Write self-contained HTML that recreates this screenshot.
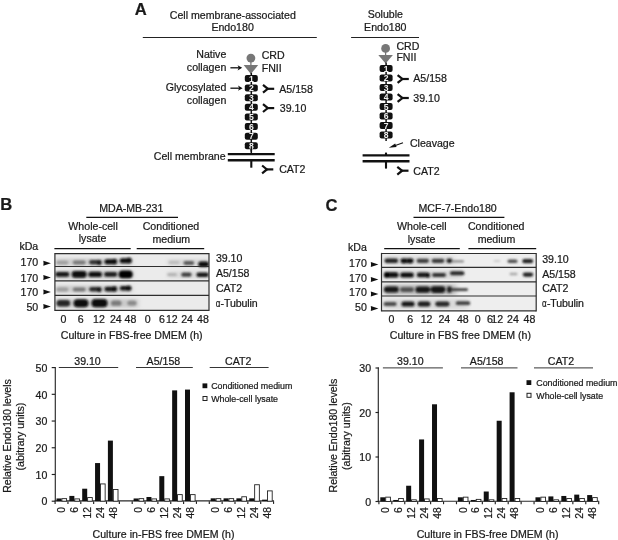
<!DOCTYPE html>
<html lang="en">
<head>
<meta charset="utf-8">
<title>Endo180 figure</title>
<style>
html,body{margin:0;padding:0;background:#fff;}
body{width:618px;height:540px;overflow:hidden;}
svg{display:block;font-family:"Liberation Sans",Arial,Helvetica,sans-serif;}
text{fill:#1a1a1a;stroke:#1a1a1a;stroke-width:0.22px;}
</style>
</head>
<body>
<svg width="618" height="540" viewBox="0 0 618 540">
<defs><filter id="blur" x="-5%" y="-5%" width="110%" height="110%"><feGaussianBlur stdDeviation="1.0 0.85"/></filter><filter id="blur2" x="-5%" y="-5%" width="110%" height="110%"><feGaussianBlur stdDeviation="2.5 1.6"/></filter></defs>
<rect width="618" height="540" fill="#fff"/>
<text x="134.70" y="15.00" font-size="16.6" text-anchor="start" font-weight="bold" stroke="#111" stroke-width="0.35">A</text>
<text x="232.80" y="18.69" font-size="10.6" text-anchor="middle" font-weight="normal" >Cell membrane-associated</text>
<text x="232.60" y="30.99" font-size="10.6" text-anchor="middle" font-weight="normal" >Endo180</text>
<line x1="142.80" y1="37.45" x2="316.80" y2="37.45" stroke="#222" stroke-width="1.05"/>
<text x="226.30" y="57.89" font-size="10.6" text-anchor="end" font-weight="normal" >Native</text>
<text x="226.30" y="70.99" font-size="10.6" text-anchor="end" font-weight="normal" >collagen</text>
<text x="226.30" y="91.19" font-size="10.6" text-anchor="end" font-weight="normal" >Glycosylated</text>
<text x="226.30" y="103.89" font-size="10.6" text-anchor="end" font-weight="normal" >collagen</text>
<line x1="230.40" y1="67.80" x2="240.20" y2="67.80" stroke="#111" stroke-width="1.3"/>
<path d="M242.20,67.80 L237.60,65.20 L238.80,67.80 L237.60,70.40 Z" fill="#111"/>
<line x1="230.40" y1="88.20" x2="240.60" y2="88.20" stroke="#111" stroke-width="1.3"/>
<path d="M242.60,88.20 L238.00,85.60 L239.20,88.20 L238.00,90.80 Z" fill="#111"/>
<line x1="250.90" y1="58.10" x2="250.90" y2="65.10" stroke="#777" stroke-width="1.3"/>
<circle cx="250.90" cy="58.10" r="4.4" fill="#777"/>
<path d="M243.60,65.10 L258.20,65.10 L250.90,73.90 Z" fill="#777"/>
<line x1="251.30" y1="72.90" x2="251.30" y2="151.64" stroke="#111" stroke-width="1.5"/>
<rect x="244.80" y="75.00" width="13.00" height="7.00" fill="#111" stroke="none" stroke-width="0" rx="2.0"/>
<text x="251.30" y="81.60" font-size="8.6" text-anchor="middle" font-weight="bold" style="fill:#f0f0f0;stroke:none">1</text>
<rect x="244.80" y="84.62" width="13.00" height="7.00" fill="#111" stroke="none" stroke-width="0" rx="2.0"/>
<text x="251.30" y="91.22" font-size="8.6" text-anchor="middle" font-weight="bold" style="fill:#f0f0f0;stroke:none">2</text>
<rect x="244.80" y="94.24" width="13.00" height="7.00" fill="#111" stroke="none" stroke-width="0" rx="2.0"/>
<text x="251.30" y="100.84" font-size="8.6" text-anchor="middle" font-weight="bold" style="fill:#f0f0f0;stroke:none">3</text>
<rect x="244.80" y="103.86" width="13.00" height="7.00" fill="#111" stroke="none" stroke-width="0" rx="2.0"/>
<text x="251.30" y="110.46" font-size="8.6" text-anchor="middle" font-weight="bold" style="fill:#f0f0f0;stroke:none">4</text>
<rect x="244.80" y="113.48" width="13.00" height="7.00" fill="#111" stroke="none" stroke-width="0" rx="2.0"/>
<text x="251.30" y="120.08" font-size="8.6" text-anchor="middle" font-weight="bold" style="fill:#f0f0f0;stroke:none">5</text>
<rect x="244.80" y="123.10" width="13.00" height="7.00" fill="#111" stroke="none" stroke-width="0" rx="2.0"/>
<text x="251.30" y="129.70" font-size="8.6" text-anchor="middle" font-weight="bold" style="fill:#f0f0f0;stroke:none">6</text>
<rect x="244.80" y="132.72" width="13.00" height="7.00" fill="#111" stroke="none" stroke-width="0" rx="2.0"/>
<text x="251.30" y="139.32" font-size="8.6" text-anchor="middle" font-weight="bold" style="fill:#f0f0f0;stroke:none">7</text>
<rect x="244.80" y="142.34" width="13.00" height="7.00" fill="#111" stroke="none" stroke-width="0" rx="2.0"/>
<text x="251.30" y="148.94" font-size="8.6" text-anchor="middle" font-weight="bold" style="fill:#f0f0f0;stroke:none">8</text>
<text x="261.70" y="59.19" font-size="10.6" text-anchor="start" font-weight="normal" >CRD</text>
<text x="261.70" y="71.99" font-size="10.6" text-anchor="start" font-weight="normal" >FNII</text>
<g stroke="#111" stroke-width="2.2" fill="none" stroke-linecap="butt"><path d="M263.00,84.90 L267.80,88.80 L263.00,92.70"/><path d="M267.20,88.80 L274.20,88.80"/></g>
<text x="279.30" y="92.79" font-size="10.6" text-anchor="start" font-weight="normal" >A5/158</text>
<g stroke="#111" stroke-width="2.2" fill="none" stroke-linecap="butt"><path d="M263.00,104.20 L267.80,108.10 L263.00,112.00"/><path d="M267.20,108.10 L274.20,108.10"/></g>
<text x="279.80" y="112.29" font-size="10.6" text-anchor="start" font-weight="normal" >39.10</text>
<line x1="227.80" y1="154.10" x2="274.70" y2="154.10" stroke="#111" stroke-width="2.4"/>
<line x1="227.80" y1="160.20" x2="274.70" y2="160.20" stroke="#111" stroke-width="2.4"/>
<line x1="251.30" y1="160.00" x2="251.30" y2="167.70" stroke="#111" stroke-width="2.1"/>
<line x1="251.30" y1="148.00" x2="251.30" y2="154.00" stroke="#111" stroke-width="1.5"/>
<text x="225.60" y="159.79" font-size="10.6" text-anchor="end" font-weight="normal" >Cell membrane</text>
<g stroke="#111" stroke-width="2.2" fill="none" stroke-linecap="butt"><path d="M262.10,165.50 L266.90,169.40 L262.10,173.30"/><path d="M266.30,169.40 L273.30,169.40"/></g>
<text x="279.20" y="173.49" font-size="10.6" text-anchor="start" font-weight="normal" >CAT2</text>
<text x="385.30" y="18.09" font-size="10.6" text-anchor="middle" font-weight="normal" >Soluble</text>
<text x="385.30" y="30.99" font-size="10.6" text-anchor="middle" font-weight="normal" >Endo180</text>
<line x1="351.10" y1="37.45" x2="419.00" y2="37.45" stroke="#222" stroke-width="1.05"/>
<line x1="385.60" y1="48.40" x2="385.60" y2="55.10" stroke="#777" stroke-width="1.3"/>
<circle cx="385.60" cy="48.40" r="4.4" fill="#777"/>
<path d="M378.30,55.10 L392.90,55.10 L385.60,63.60 Z" fill="#777"/>
<line x1="386.10" y1="62.60" x2="386.10" y2="140.90" stroke="#111" stroke-width="1.5"/>
<rect x="379.60" y="65.10" width="13.00" height="7.00" fill="#111" stroke="none" stroke-width="0" rx="2.0"/>
<text x="386.10" y="71.70" font-size="8.6" text-anchor="middle" font-weight="bold" style="fill:#f0f0f0;stroke:none">1</text>
<rect x="379.60" y="74.60" width="13.00" height="7.00" fill="#111" stroke="none" stroke-width="0" rx="2.0"/>
<text x="386.10" y="81.20" font-size="8.6" text-anchor="middle" font-weight="bold" style="fill:#f0f0f0;stroke:none">2</text>
<rect x="379.60" y="84.10" width="13.00" height="7.00" fill="#111" stroke="none" stroke-width="0" rx="2.0"/>
<text x="386.10" y="90.70" font-size="8.6" text-anchor="middle" font-weight="bold" style="fill:#f0f0f0;stroke:none">3</text>
<rect x="379.60" y="93.60" width="13.00" height="7.00" fill="#111" stroke="none" stroke-width="0" rx="2.0"/>
<text x="386.10" y="100.20" font-size="8.6" text-anchor="middle" font-weight="bold" style="fill:#f0f0f0;stroke:none">4</text>
<rect x="379.60" y="103.10" width="13.00" height="7.00" fill="#111" stroke="none" stroke-width="0" rx="2.0"/>
<text x="386.10" y="109.70" font-size="8.6" text-anchor="middle" font-weight="bold" style="fill:#f0f0f0;stroke:none">5</text>
<rect x="379.60" y="112.60" width="13.00" height="7.00" fill="#111" stroke="none" stroke-width="0" rx="2.0"/>
<text x="386.10" y="119.20" font-size="8.6" text-anchor="middle" font-weight="bold" style="fill:#f0f0f0;stroke:none">6</text>
<rect x="379.60" y="122.10" width="13.00" height="7.00" fill="#111" stroke="none" stroke-width="0" rx="2.0"/>
<text x="386.10" y="128.70" font-size="8.6" text-anchor="middle" font-weight="bold" style="fill:#f0f0f0;stroke:none">7</text>
<rect x="379.60" y="131.60" width="13.00" height="7.00" fill="#111" stroke="none" stroke-width="0" rx="2.0"/>
<text x="386.10" y="138.20" font-size="8.6" text-anchor="middle" font-weight="bold" style="fill:#f0f0f0;stroke:none">8</text>
<text x="396.40" y="50.39" font-size="10.6" text-anchor="start" font-weight="normal" >CRD</text>
<text x="396.40" y="61.39" font-size="10.6" text-anchor="start" font-weight="normal" >FNII</text>
<g stroke="#111" stroke-width="2.2" fill="none" stroke-linecap="butt"><path d="M397.60,75.10 L402.40,79.00 L397.60,82.90"/><path d="M401.80,79.00 L408.80,79.00"/></g>
<text x="413.30" y="81.99" font-size="10.6" text-anchor="start" font-weight="normal" >A5/158</text>
<g stroke="#111" stroke-width="2.2" fill="none" stroke-linecap="butt"><path d="M397.60,94.10 L402.40,98.00 L397.60,101.90"/><path d="M401.80,98.00 L408.80,98.00"/></g>
<text x="413.30" y="101.79" font-size="10.6" text-anchor="start" font-weight="normal" >39.10</text>
<line x1="403.0" y1="142.8" x2="394.0" y2="146.0" stroke="#111" stroke-width="1.1"/>
<path d="M388.8,147.8 L395.2,143.6 L396.6,147.1 Z" fill="#111"/>
<text x="409.90" y="146.69" font-size="10.6" text-anchor="start" font-weight="normal" >Cleavage</text>
<line x1="362.60" y1="155.40" x2="409.50" y2="155.40" stroke="#111" stroke-width="2.4"/>
<line x1="362.60" y1="161.20" x2="409.50" y2="161.20" stroke="#111" stroke-width="2.4"/>
<line x1="386.00" y1="152.60" x2="386.00" y2="155.40" stroke="#111" stroke-width="2.1"/>
<line x1="386.00" y1="161.20" x2="386.00" y2="168.60" stroke="#111" stroke-width="2.1"/>
<g stroke="#111" stroke-width="2.2" fill="none" stroke-linecap="butt"><path d="M397.30,166.80 L402.10,170.70 L397.30,174.60"/><path d="M401.50,170.70 L408.50,170.70"/></g>
<text x="413.30" y="174.79" font-size="10.6" text-anchor="start" font-weight="normal" >CAT2</text>
<text x="0.30" y="209.70" font-size="16.6" text-anchor="start" font-weight="bold" stroke="#111" stroke-width="0.35">B</text>
<text x="131.30" y="212.39" font-size="10.6" text-anchor="middle" font-weight="normal" >MDA-MB-231</text>
<line x1="86.30" y1="217.30" x2="178.00" y2="217.30" stroke="#111" stroke-width="1.3"/>
<text x="93.10" y="229.99" font-size="10.6" text-anchor="middle" font-weight="normal" >Whole-cell</text>
<text x="92.60" y="242.19" font-size="10.6" text-anchor="middle" font-weight="normal" >lysate</text>
<text x="171.00" y="229.79" font-size="10.6" text-anchor="middle" font-weight="normal" >Conditioned</text>
<text x="171.30" y="242.79" font-size="10.6" text-anchor="middle" font-weight="normal" >medium</text>
<line x1="54.40" y1="248.60" x2="130.70" y2="248.60" stroke="#111" stroke-width="1.2"/>
<line x1="136.70" y1="248.60" x2="204.20" y2="248.60" stroke="#111" stroke-width="1.2"/>
<text x="19.40" y="250.39" font-size="10.6" text-anchor="start" font-weight="normal" >kDa</text>
<text x="38.20" y="266.29" font-size="10.6" text-anchor="end" font-weight="normal" >170</text>
<path d="M50.90,263.30 L43.30,260.80 L43.55,263.30 L43.30,265.80 Z" fill="#111"/>
<text x="38.20" y="281.59" font-size="10.6" text-anchor="end" font-weight="normal" >170</text>
<path d="M50.90,277.40 L43.30,274.90 L43.55,277.40 L43.30,279.90 Z" fill="#111"/>
<text x="38.20" y="296.29" font-size="10.6" text-anchor="end" font-weight="normal" >170</text>
<path d="M50.90,292.00 L43.30,289.50 L43.55,292.00 L43.30,294.50 Z" fill="#111"/>
<text x="38.20" y="310.59" font-size="10.6" text-anchor="end" font-weight="normal" >50</text>
<path d="M50.90,306.50 L43.30,304.00 L43.55,306.50 L43.30,309.00 Z" fill="#111"/>
<rect x="54.9" y="253.6" width="154.1" height="56.79999999999998" fill="#ebebeb"/>
<clipPath id="bc"><rect x="54.9" y="253.6" width="154.1" height="56.79999999999998"/></clipPath>
<g clip-path="url(#bc)"><g filter="url(#blur2)">
<rect x="56" y="258.5" width="76" height="7" fill="#cdcdcd"/>
<rect x="56" y="270.5" width="77" height="8" fill="#cacaca"/>
<rect x="56" y="285.5" width="76" height="7" fill="#cdcdcd"/>
<rect x="56" y="299" width="82" height="8.5" fill="#cacaca"/>
<rect x="168" y="259" width="41" height="6.5" fill="#d8d8d8"/>
<rect x="168" y="271.5" width="41" height="6.5" fill="#dadada"/>
</g></g>
<g clip-path="url(#bc)"><g filter="url(#blur)">
<rect x="56.30" y="260.70" width="12.00" height="3.80" rx="1.90" fill="#9e9e9e"/>
<rect x="72.80" y="260.60" width="12.80" height="4.00" rx="2.00" fill="#787878"/>
<rect x="89.20" y="260.10" width="12.00" height="4.40" rx="2.20" fill="#303030"/>
<rect x="104.50" y="259.30" width="12.40" height="5.00" rx="2.50" fill="#101010"/>
<rect x="119.70" y="258.30" width="12.00" height="5.00" rx="2.50" fill="#101010"/>
<rect x="97.10" y="260.00" width="4.40" height="5.20" rx="2.20" fill="#151515"/>
<rect x="112.20" y="258.80" width="4.80" height="5.60" rx="2.40" fill="#080808"/>
<rect x="126.40" y="257.50" width="5.20" height="5.80" rx="2.60" fill="#080808"/>
<rect x="168.60" y="261.10" width="10.80" height="2.80" rx="1.40" fill="#bcbcbc"/>
<rect x="183.40" y="260.90" width="10.80" height="4.00" rx="2.00" fill="#5a5a5a"/>
<rect x="198.20" y="261.50" width="10.80" height="5.40" rx="2.70" fill="#0c0c0c"/>
<rect x="55.30" y="272.00" width="14.00" height="4.80" rx="2.40" fill="#141414"/>
<rect x="71.80" y="271.10" width="14.80" height="6.60" rx="3.30" fill="#080808"/>
<rect x="88.50" y="271.80" width="13.40" height="5.20" rx="2.60" fill="#101010"/>
<rect x="104.20" y="272.10" width="13.00" height="4.60" rx="2.30" fill="#1c1c1c"/>
<rect x="118.70" y="270.60" width="14.00" height="7.60" rx="3.80" fill="#030303"/>
<rect x="167.20" y="273.30" width="9.60" height="2.80" rx="1.40" fill="#b0b0b0"/>
<rect x="181.20" y="272.60" width="10.40" height="4.20" rx="2.10" fill="#404040"/>
<rect x="196.40" y="272.40" width="12.40" height="4.60" rx="2.30" fill="#161616"/>
<rect x="56.30" y="287.60" width="12.00" height="3.80" rx="1.90" fill="#9e9e9e"/>
<rect x="72.80" y="287.50" width="12.80" height="4.00" rx="2.00" fill="#767676"/>
<rect x="89.20" y="287.00" width="12.00" height="4.60" rx="2.30" fill="#2c2c2c"/>
<rect x="104.50" y="286.70" width="12.40" height="4.80" rx="2.40" fill="#141414"/>
<rect x="119.90" y="286.00" width="11.60" height="4.60" rx="2.30" fill="#141414"/>
<rect x="97.10" y="287.00" width="4.40" height="5.20" rx="2.20" fill="#151515"/>
<rect x="112.20" y="286.30" width="4.80" height="5.40" rx="2.40" fill="#0a0a0a"/>
<rect x="126.20" y="285.60" width="4.80" height="5.20" rx="2.40" fill="#0a0a0a"/>
<rect x="56.50" y="299.90" width="13.60" height="6.60" rx="3.30" fill="#262626"/>
<rect x="73.60" y="299.20" width="14.80" height="8.00" rx="4.00" fill="#080808"/>
<rect x="91.50" y="299.10" width="16.00" height="8.20" rx="4.10" fill="#080808"/>
<rect x="111.10" y="300.60" width="10.40" height="5.20" rx="2.60" fill="#7a7a7a"/>
<rect x="127.40" y="300.80" width="9.20" height="4.80" rx="2.40" fill="#8a8a8a"/>
</g></g>
<line x1="54.90" y1="253.60" x2="209.00" y2="253.60" stroke="#2e2e2e" stroke-width="1.2"/>
<line x1="54.90" y1="266.50" x2="209.00" y2="266.50" stroke="#2e2e2e" stroke-width="1.2"/>
<line x1="54.90" y1="280.90" x2="209.00" y2="280.90" stroke="#2e2e2e" stroke-width="1.2"/>
<line x1="54.90" y1="295.40" x2="209.00" y2="295.40" stroke="#2e2e2e" stroke-width="1.2"/>
<line x1="54.90" y1="310.40" x2="209.00" y2="310.40" stroke="#2e2e2e" stroke-width="1.2"/>
<line x1="54.90" y1="253.00" x2="54.90" y2="311.00" stroke="#2e2e2e" stroke-width="1.2"/>
<line x1="209.00" y1="253.00" x2="209.00" y2="311.00" stroke="#2e2e2e" stroke-width="1.2"/>
<text x="63.40" y="323.29" font-size="10.6" text-anchor="middle" font-weight="normal" >0</text>
<text x="80.80" y="323.29" font-size="10.6" text-anchor="middle" font-weight="normal" >6</text>
<text x="99.00" y="323.29" font-size="10.6" text-anchor="middle" font-weight="normal" >12</text>
<text x="115.80" y="323.29" font-size="10.6" text-anchor="middle" font-weight="normal" >24</text>
<text x="130.50" y="323.29" font-size="10.6" text-anchor="middle" font-weight="normal" >48</text>
<text x="147.60" y="323.29" font-size="10.6" text-anchor="middle" font-weight="normal" >0</text>
<text x="162.00" y="323.29" font-size="10.6" text-anchor="middle" font-weight="normal" >6</text>
<text x="171.80" y="323.29" font-size="10.6" text-anchor="middle" font-weight="normal" >12</text>
<text x="187.10" y="323.29" font-size="10.6" text-anchor="middle" font-weight="normal" >24</text>
<text x="202.90" y="323.29" font-size="10.6" text-anchor="middle" font-weight="normal" >48</text>
<text x="215.90" y="262.19" font-size="10.6" text-anchor="start" font-weight="normal" >39.10</text>
<text x="215.90" y="276.89" font-size="10.6" text-anchor="start" font-weight="normal" >A5/158</text>
<text x="215.90" y="291.69" font-size="10.6" text-anchor="start" font-weight="normal" >CAT2</text>
<text transform="translate(215.7,306.69) scale(0.76,1)" font-size="10.6">α</text>
<text x="220.6" y="306.69" font-size="10.6" letter-spacing="-0.13">-Tubulin</text>
<text x="131.70" y="339.19" font-size="10.6" text-anchor="middle" font-weight="normal" >Culture in FBS-free DMEM (h)</text>
<text x="325.60" y="210.90" font-size="16.6" text-anchor="start" font-weight="bold" stroke="#111" stroke-width="0.35">C</text>
<text x="457.60" y="212.39" font-size="10.6" text-anchor="middle" font-weight="normal" >MCF-7-Endo180</text>
<line x1="413.50" y1="217.30" x2="504.40" y2="217.30" stroke="#111" stroke-width="1.3"/>
<text x="421.80" y="230.09" font-size="10.6" text-anchor="middle" font-weight="normal" >Whole-cell</text>
<text x="421.60" y="242.59" font-size="10.6" text-anchor="middle" font-weight="normal" >lysate</text>
<text x="496.20" y="229.79" font-size="10.6" text-anchor="middle" font-weight="normal" >Conditioned</text>
<text x="496.50" y="242.79" font-size="10.6" text-anchor="middle" font-weight="normal" >medium</text>
<line x1="384.20" y1="248.70" x2="459.80" y2="248.70" stroke="#111" stroke-width="1.2"/>
<line x1="468.40" y1="248.70" x2="536.20" y2="248.70" stroke="#111" stroke-width="1.2"/>
<text x="348.00" y="250.59" font-size="10.6" text-anchor="start" font-weight="normal" >kDa</text>
<text x="366.80" y="266.69" font-size="10.6" text-anchor="end" font-weight="normal" >170</text>
<path d="M378.40,264.40 L370.80,261.90 L371.05,264.40 L370.80,266.90 Z" fill="#111"/>
<text x="366.80" y="281.89" font-size="10.6" text-anchor="end" font-weight="normal" >170</text>
<path d="M378.40,279.60 L370.80,277.10 L371.05,279.60 L370.80,282.10 Z" fill="#111"/>
<text x="366.80" y="296.39" font-size="10.6" text-anchor="end" font-weight="normal" >170</text>
<path d="M378.40,294.10 L370.80,291.60 L371.05,294.10 L370.80,296.60 Z" fill="#111"/>
<text x="366.80" y="310.69" font-size="10.6" text-anchor="end" font-weight="normal" >50</text>
<path d="M378.40,308.40 L370.80,305.90 L371.05,308.40 L370.80,310.90 Z" fill="#111"/>
<rect x="381.5" y="253.5" width="154.70000000000005" height="57.30000000000001" fill="#eeeeee"/>
<clipPath id="cc"><rect x="381.5" y="253.5" width="154.70000000000005" height="57.30000000000001"/></clipPath>
<g clip-path="url(#cc)"><g filter="url(#blur2)">
<rect x="384" y="284.5" width="72" height="10.5" fill="#bdbdbd"/>
<rect x="384" y="256" width="70" height="9" fill="#dcdcdc"/>
<rect x="384" y="270" width="78" height="9" fill="#dadada"/>
<rect x="384" y="299" width="84" height="10" fill="#dadada"/>
</g></g>
<g clip-path="url(#cc)"><g filter="url(#blur)">
<rect x="384.50" y="258.60" width="13.60" height="4.40" rx="2.20" fill="#202020"/>
<rect x="400.40" y="258.40" width="13.20" height="4.80" rx="2.40" fill="#141414"/>
<rect x="416.60" y="258.70" width="12.40" height="4.20" rx="2.10" fill="#3e3e3e"/>
<rect x="431.60" y="258.70" width="12.80" height="4.20" rx="2.10" fill="#3a3a3a"/>
<rect x="446.50" y="258.50" width="6.00" height="4.60" rx="2.30" fill="#202020"/>
<rect x="401.10" y="258.50" width="4.80" height="5.00" rx="2.40" fill="#101010"/>
<rect x="408.10" y="258.50" width="4.80" height="5.00" rx="2.40" fill="#101010"/>
<rect x="452.00" y="260.30" width="12.00" height="2.20" rx="1.10" fill="#8a8a8a"/>
<rect x="493.60" y="259.90" width="6.80" height="2.20" rx="1.10" fill="#cacaca"/>
<rect x="507.50" y="259.50" width="10.00" height="3.40" rx="1.70" fill="#505050"/>
<rect x="522.30" y="259.10" width="10.80" height="4.20" rx="2.10" fill="#222222"/>
<rect x="384.10" y="272.20" width="14.40" height="5.40" rx="2.70" fill="#080808"/>
<rect x="400.20" y="272.40" width="13.60" height="5.00" rx="2.50" fill="#101010"/>
<rect x="416.80" y="272.60" width="12.00" height="4.60" rx="2.30" fill="#161616"/>
<rect x="432.00" y="272.90" width="14.00" height="4.00" rx="2.00" fill="#303030"/>
<rect x="450.00" y="271.30" width="14.40" height="4.00" rx="2.00" fill="#262626"/>
<rect x="384.00" y="272.00" width="5.00" height="5.80" rx="2.50" fill="#050505"/>
<rect x="426.00" y="272.70" width="4.00" height="5.00" rx="2.00" fill="#0a0a0a"/>
<rect x="509.50" y="272.80" width="8.00" height="2.40" rx="1.20" fill="#a8a8a8"/>
<rect x="522.80" y="272.50" width="10.40" height="4.20" rx="2.10" fill="#242424"/>
<rect x="383.90" y="286.60" width="14.80" height="6.00" rx="3.00" fill="#141414"/>
<rect x="400.00" y="287.20" width="14.00" height="4.80" rx="2.40" fill="#505050"/>
<rect x="415.40" y="286.40" width="14.80" height="6.40" rx="3.20" fill="#181818"/>
<rect x="430.60" y="286.30" width="14.80" height="6.60" rx="3.30" fill="#121212"/>
<rect x="447.00" y="286.20" width="4.80" height="6.80" rx="2.40" fill="#202020"/>
<rect x="451.00" y="288.30" width="17.00" height="2.60" rx="1.30" fill="#3c3c3c"/>
<rect x="383.50" y="301.90" width="13.20" height="4.20" rx="2.10" fill="#484848"/>
<rect x="401.40" y="301.40" width="13.20" height="5.20" rx="2.60" fill="#181818"/>
<rect x="417.60" y="301.50" width="12.80" height="5.00" rx="2.50" fill="#1c1c1c"/>
<rect x="435.20" y="301.60" width="14.40" height="4.80" rx="2.40" fill="#262626"/>
<rect x="455.80" y="301.30" width="14.40" height="3.80" rx="1.90" fill="#404040"/>
</g></g>
<line x1="381.50" y1="253.50" x2="536.20" y2="253.50" stroke="#2e2e2e" stroke-width="1.2"/>
<line x1="381.50" y1="267.40" x2="536.20" y2="267.40" stroke="#2e2e2e" stroke-width="1.2"/>
<line x1="381.50" y1="281.80" x2="536.20" y2="281.80" stroke="#2e2e2e" stroke-width="1.2"/>
<line x1="381.50" y1="296.00" x2="536.20" y2="296.00" stroke="#2e2e2e" stroke-width="1.2"/>
<line x1="381.50" y1="310.80" x2="536.20" y2="310.80" stroke="#2e2e2e" stroke-width="1.2"/>
<line x1="381.50" y1="252.90" x2="381.50" y2="311.40" stroke="#2e2e2e" stroke-width="1.2"/>
<line x1="536.20" y1="252.90" x2="536.20" y2="311.40" stroke="#2e2e2e" stroke-width="1.2"/>
<text x="391.40" y="322.99" font-size="10.6" text-anchor="middle" font-weight="normal" >0</text>
<text x="410.30" y="322.99" font-size="10.6" text-anchor="middle" font-weight="normal" >6</text>
<text x="426.60" y="322.99" font-size="10.6" text-anchor="middle" font-weight="normal" >12</text>
<text x="444.30" y="322.99" font-size="10.6" text-anchor="middle" font-weight="normal" >24</text>
<text x="462.80" y="322.99" font-size="10.6" text-anchor="middle" font-weight="normal" >48</text>
<text x="477.60" y="322.99" font-size="10.6" text-anchor="middle" font-weight="normal" >0</text>
<text x="489.90" y="322.99" font-size="10.6" text-anchor="middle" font-weight="normal" >6</text>
<text x="497.20" y="322.99" font-size="10.6" text-anchor="middle" font-weight="normal" >12</text>
<text x="513.00" y="322.99" font-size="10.6" text-anchor="middle" font-weight="normal" >24</text>
<text x="529.40" y="322.99" font-size="10.6" text-anchor="middle" font-weight="normal" >48</text>
<text x="542.20" y="263.39" font-size="10.6" text-anchor="start" font-weight="normal" >39.10</text>
<text x="542.20" y="277.89" font-size="10.6" text-anchor="start" font-weight="normal" >A5/158</text>
<text x="542.20" y="292.49" font-size="10.6" text-anchor="start" font-weight="normal" >CAT2</text>
<text transform="translate(542.0,307.09) scale(0.76,1)" font-size="10.6">α</text>
<text x="546.9" y="307.09" font-size="10.6" letter-spacing="-0.13">-Tubulin</text>
<text x="460.40" y="339.39" font-size="10.6" text-anchor="middle" font-weight="normal" >Culture in FBS free DMEM (h)</text>
<line x1="55.30" y1="367.10" x2="55.30" y2="501.50" stroke="#2a2a2a" stroke-width="1.15"/>
<line x1="54.70" y1="500.90" x2="274.05" y2="500.90" stroke="#2a2a2a" stroke-width="1.15"/>
<line x1="51.70" y1="501.20" x2="55.10" y2="501.20" stroke="#222" stroke-width="1.15"/>
<text x="47.30" y="505.49" font-size="10.6" text-anchor="end" font-weight="normal" >0</text>
<line x1="51.70" y1="474.48" x2="55.10" y2="474.48" stroke="#222" stroke-width="1.15"/>
<text x="47.30" y="478.77" font-size="10.6" text-anchor="end" font-weight="normal" >10</text>
<line x1="51.70" y1="447.76" x2="55.10" y2="447.76" stroke="#222" stroke-width="1.15"/>
<text x="47.30" y="452.05" font-size="10.6" text-anchor="end" font-weight="normal" >20</text>
<line x1="51.70" y1="421.04" x2="55.10" y2="421.04" stroke="#222" stroke-width="1.15"/>
<text x="47.30" y="425.33" font-size="10.6" text-anchor="end" font-weight="normal" >30</text>
<line x1="51.70" y1="394.32" x2="55.10" y2="394.32" stroke="#222" stroke-width="1.15"/>
<text x="47.30" y="398.61" font-size="10.6" text-anchor="end" font-weight="normal" >40</text>
<line x1="51.70" y1="367.60" x2="55.10" y2="367.60" stroke="#222" stroke-width="1.15"/>
<text x="47.30" y="371.89" font-size="10.6" text-anchor="end" font-weight="normal" >50</text>
<rect x="56.50" y="498.46" width="5.00" height="2.74" fill="#111" stroke="none" stroke-width="0" rx="0"/>
<rect x="61.90" y="498.63" width="4.70" height="2.57" fill="#fff" stroke="#222" stroke-width="0.9"/>
<text transform="translate(65.12,507.00) rotate(-90)" font-size="10.3" text-anchor="end">0</text>
<rect x="69.35" y="495.92" width="5.00" height="5.28" fill="#111" stroke="none" stroke-width="0" rx="0"/>
<rect x="74.75" y="498.90" width="4.70" height="2.30" fill="#fff" stroke="#222" stroke-width="0.9"/>
<text transform="translate(77.98,507.00) rotate(-90)" font-size="10.3" text-anchor="end">6</text>
<rect x="82.20" y="488.71" width="5.00" height="12.49" fill="#111" stroke="none" stroke-width="0" rx="0"/>
<rect x="87.60" y="497.56" width="4.70" height="3.64" fill="#fff" stroke="#222" stroke-width="0.9"/>
<text transform="translate(90.83,507.00) rotate(-90)" font-size="10.3" text-anchor="end">12</text>
<rect x="95.05" y="463.06" width="5.00" height="38.14" fill="#111" stroke="none" stroke-width="0" rx="0"/>
<rect x="100.45" y="483.93" width="4.70" height="17.27" fill="#fff" stroke="#222" stroke-width="0.9"/>
<text transform="translate(103.68,507.00) rotate(-90)" font-size="10.3" text-anchor="end">24</text>
<rect x="107.90" y="440.61" width="5.00" height="60.59" fill="#111" stroke="none" stroke-width="0" rx="0"/>
<rect x="113.30" y="489.54" width="4.70" height="11.66" fill="#fff" stroke="#222" stroke-width="0.9"/>
<text transform="translate(116.53,507.00) rotate(-90)" font-size="10.3" text-anchor="end">48</text>
<rect x="133.60" y="498.46" width="5.00" height="2.74" fill="#111" stroke="none" stroke-width="0" rx="0"/>
<rect x="139.00" y="498.63" width="4.70" height="2.57" fill="#fff" stroke="#222" stroke-width="0.9"/>
<text transform="translate(142.22,507.00) rotate(-90)" font-size="10.3" text-anchor="end">0</text>
<rect x="146.45" y="496.99" width="5.00" height="4.21" fill="#111" stroke="none" stroke-width="0" rx="0"/>
<rect x="151.85" y="498.90" width="4.70" height="2.30" fill="#fff" stroke="#222" stroke-width="0.9"/>
<text transform="translate(155.08,507.00) rotate(-90)" font-size="10.3" text-anchor="end">6</text>
<rect x="159.30" y="476.15" width="5.00" height="25.05" fill="#111" stroke="none" stroke-width="0" rx="0"/>
<rect x="164.70" y="498.90" width="4.70" height="2.30" fill="#fff" stroke="#222" stroke-width="0.9"/>
<text transform="translate(167.93,507.00) rotate(-90)" font-size="10.3" text-anchor="end">12</text>
<rect x="172.15" y="390.38" width="5.00" height="110.82" fill="#111" stroke="none" stroke-width="0" rx="0"/>
<rect x="177.55" y="494.62" width="4.70" height="6.58" fill="#fff" stroke="#222" stroke-width="0.9"/>
<text transform="translate(180.78,507.00) rotate(-90)" font-size="10.3" text-anchor="end">24</text>
<rect x="185.00" y="389.58" width="5.00" height="111.62" fill="#111" stroke="none" stroke-width="0" rx="0"/>
<rect x="190.40" y="494.62" width="4.70" height="6.58" fill="#fff" stroke="#222" stroke-width="0.9"/>
<text transform="translate(193.62,507.00) rotate(-90)" font-size="10.3" text-anchor="end">48</text>
<rect x="210.70" y="498.33" width="5.00" height="2.87" fill="#111" stroke="none" stroke-width="0" rx="0"/>
<rect x="216.10" y="498.63" width="4.70" height="2.57" fill="#fff" stroke="#222" stroke-width="0.9"/>
<text transform="translate(219.32,507.00) rotate(-90)" font-size="10.3" text-anchor="end">0</text>
<rect x="223.55" y="498.33" width="5.00" height="2.87" fill="#111" stroke="none" stroke-width="0" rx="0"/>
<rect x="228.95" y="498.63" width="4.70" height="2.57" fill="#fff" stroke="#222" stroke-width="0.9"/>
<text transform="translate(232.17,507.00) rotate(-90)" font-size="10.3" text-anchor="end">6</text>
<rect x="236.40" y="498.33" width="5.00" height="2.87" fill="#111" stroke="none" stroke-width="0" rx="0"/>
<rect x="241.80" y="496.76" width="4.70" height="4.44" fill="#fff" stroke="#222" stroke-width="0.9"/>
<text transform="translate(245.03,507.00) rotate(-90)" font-size="10.3" text-anchor="end">12</text>
<rect x="249.25" y="498.33" width="5.00" height="2.87" fill="#111" stroke="none" stroke-width="0" rx="0"/>
<rect x="254.65" y="484.73" width="4.70" height="16.47" fill="#fff" stroke="#222" stroke-width="0.9"/>
<text transform="translate(257.88,507.00) rotate(-90)" font-size="10.3" text-anchor="end">24</text>
<rect x="262.10" y="499.66" width="5.00" height="1.54" fill="#111" stroke="none" stroke-width="0" rx="0"/>
<rect x="267.50" y="490.88" width="4.70" height="10.32" fill="#fff" stroke="#222" stroke-width="0.9"/>
<text transform="translate(270.72,507.00) rotate(-90)" font-size="10.3" text-anchor="end">48</text>
<line x1="55.10" y1="501.20" x2="55.10" y2="503.90" stroke="#222" stroke-width="1.15"/>
<line x1="67.95" y1="501.20" x2="67.95" y2="503.90" stroke="#222" stroke-width="1.15"/>
<line x1="80.80" y1="501.20" x2="80.80" y2="503.90" stroke="#222" stroke-width="1.15"/>
<line x1="93.65" y1="501.20" x2="93.65" y2="503.90" stroke="#222" stroke-width="1.15"/>
<line x1="106.50" y1="501.20" x2="106.50" y2="503.90" stroke="#222" stroke-width="1.15"/>
<line x1="119.35" y1="501.20" x2="119.35" y2="503.90" stroke="#222" stroke-width="1.15"/>
<line x1="132.20" y1="501.20" x2="132.20" y2="503.90" stroke="#222" stroke-width="1.15"/>
<line x1="145.05" y1="501.20" x2="145.05" y2="503.90" stroke="#222" stroke-width="1.15"/>
<line x1="157.90" y1="501.20" x2="157.90" y2="503.90" stroke="#222" stroke-width="1.15"/>
<line x1="170.75" y1="501.20" x2="170.75" y2="503.90" stroke="#222" stroke-width="1.15"/>
<line x1="183.60" y1="501.20" x2="183.60" y2="503.90" stroke="#222" stroke-width="1.15"/>
<line x1="196.45" y1="501.20" x2="196.45" y2="503.90" stroke="#222" stroke-width="1.15"/>
<line x1="209.30" y1="501.20" x2="209.30" y2="503.90" stroke="#222" stroke-width="1.15"/>
<line x1="222.15" y1="501.20" x2="222.15" y2="503.90" stroke="#222" stroke-width="1.15"/>
<line x1="235.00" y1="501.20" x2="235.00" y2="503.90" stroke="#222" stroke-width="1.15"/>
<line x1="247.85" y1="501.20" x2="247.85" y2="503.90" stroke="#222" stroke-width="1.15"/>
<line x1="260.70" y1="501.20" x2="260.70" y2="503.90" stroke="#222" stroke-width="1.15"/>
<line x1="273.55" y1="501.20" x2="273.55" y2="503.90" stroke="#222" stroke-width="1.15"/>
<line x1="58.80" y1="367.50" x2="118.20" y2="367.50" stroke="#2a2a2a" stroke-width="0.95"/>
<text x="87.50" y="365.39" font-size="10.6" text-anchor="middle" font-weight="normal" >39.10</text>
<line x1="136.00" y1="367.50" x2="192.80" y2="367.50" stroke="#2a2a2a" stroke-width="0.95"/>
<text x="163.40" y="365.39" font-size="10.6" text-anchor="middle" font-weight="normal" >A5/158</text>
<line x1="209.70" y1="367.50" x2="268.60" y2="367.50" stroke="#2a2a2a" stroke-width="0.95"/>
<text x="238.15" y="365.39" font-size="10.6" text-anchor="middle" font-weight="normal" >CAT2</text>
<text x="163.50" y="538.09" font-size="10.6" text-anchor="middle" font-weight="normal" >Culture in-FBS free DMEM (h)</text>
<text transform="translate(11.00,436.00) rotate(-90)" font-size="10.6" text-anchor="middle">Relative Endo180 levels</text>
<text transform="translate(23.60,436.60) rotate(-90)" font-size="10.6" text-anchor="middle">(abitrary units)</text>
<rect x="202.50" y="383.40" width="4.80" height="4.80" fill="#111" stroke="none" stroke-width="0" rx="0"/>
<text x="211.20" y="389.07" font-size="8.85" text-anchor="start" font-weight="normal" >Conditioned medium</text>
<rect x="203.00" y="396.50" width="4.0" height="4.0" fill="#fff" stroke="#222" stroke-width="1.0"/>
<text x="211.20" y="402.17" font-size="8.85" text-anchor="start" font-weight="normal" >Whole-cell lysate</text>
<line x1="378.30" y1="367.50" x2="378.30" y2="501.80" stroke="#2a2a2a" stroke-width="1.15"/>
<line x1="377.70" y1="501.20" x2="599.21" y2="501.20" stroke="#2a2a2a" stroke-width="1.15"/>
<line x1="375.50" y1="501.50" x2="378.90" y2="501.50" stroke="#222" stroke-width="1.15"/>
<text x="371.10" y="505.79" font-size="10.6" text-anchor="end" font-weight="normal" >0</text>
<line x1="375.50" y1="457.00" x2="378.90" y2="457.00" stroke="#222" stroke-width="1.15"/>
<text x="371.10" y="461.29" font-size="10.6" text-anchor="end" font-weight="normal" >10</text>
<line x1="375.50" y1="412.50" x2="378.90" y2="412.50" stroke="#222" stroke-width="1.15"/>
<text x="371.10" y="416.79" font-size="10.6" text-anchor="end" font-weight="normal" >20</text>
<line x1="375.50" y1="368.00" x2="378.90" y2="368.00" stroke="#222" stroke-width="1.15"/>
<text x="371.10" y="372.29" font-size="10.6" text-anchor="end" font-weight="normal" >30</text>
<rect x="380.30" y="497.30" width="5.00" height="4.21" fill="#111" stroke="none" stroke-width="0" rx="0"/>
<rect x="385.70" y="497.15" width="4.70" height="4.35" fill="#fff" stroke="#222" stroke-width="0.9"/>
<text transform="translate(388.96,507.30) rotate(-90)" font-size="10.3" text-anchor="end">0</text>
<rect x="393.23" y="499.97" width="5.00" height="1.53" fill="#111" stroke="none" stroke-width="0" rx="0"/>
<rect x="398.63" y="498.49" width="4.70" height="3.01" fill="#fff" stroke="#222" stroke-width="0.9"/>
<text transform="translate(401.89,507.30) rotate(-90)" font-size="10.3" text-anchor="end">6</text>
<rect x="406.16" y="485.73" width="5.00" height="15.77" fill="#111" stroke="none" stroke-width="0" rx="0"/>
<rect x="411.56" y="499.82" width="4.70" height="1.68" fill="#fff" stroke="#222" stroke-width="0.9"/>
<text transform="translate(414.82,507.30) rotate(-90)" font-size="10.3" text-anchor="end">12</text>
<rect x="419.09" y="439.44" width="5.00" height="62.06" fill="#111" stroke="none" stroke-width="0" rx="0"/>
<rect x="424.49" y="498.93" width="4.70" height="2.57" fill="#fff" stroke="#222" stroke-width="0.9"/>
<text transform="translate(427.75,507.30) rotate(-90)" font-size="10.3" text-anchor="end">24</text>
<rect x="432.02" y="404.29" width="5.00" height="97.21" fill="#111" stroke="none" stroke-width="0" rx="0"/>
<rect x="437.42" y="498.49" width="4.70" height="3.01" fill="#fff" stroke="#222" stroke-width="0.9"/>
<text transform="translate(440.68,507.30) rotate(-90)" font-size="10.3" text-anchor="end">48</text>
<rect x="457.88" y="497.30" width="5.00" height="4.21" fill="#111" stroke="none" stroke-width="0" rx="0"/>
<rect x="463.28" y="497.15" width="4.70" height="4.35" fill="#fff" stroke="#222" stroke-width="0.9"/>
<text transform="translate(466.54,507.30) rotate(-90)" font-size="10.3" text-anchor="end">0</text>
<rect x="470.81" y="499.97" width="5.00" height="1.53" fill="#111" stroke="none" stroke-width="0" rx="0"/>
<rect x="476.21" y="499.38" width="4.70" height="2.12" fill="#fff" stroke="#222" stroke-width="0.9"/>
<text transform="translate(479.47,507.30) rotate(-90)" font-size="10.3" text-anchor="end">6</text>
<rect x="483.74" y="491.51" width="5.00" height="9.99" fill="#111" stroke="none" stroke-width="0" rx="0"/>
<rect x="489.14" y="499.82" width="4.70" height="1.68" fill="#fff" stroke="#222" stroke-width="0.9"/>
<text transform="translate(492.40,507.30) rotate(-90)" font-size="10.3" text-anchor="end">12</text>
<rect x="496.67" y="420.75" width="5.00" height="80.75" fill="#111" stroke="none" stroke-width="0" rx="0"/>
<rect x="502.07" y="498.49" width="4.70" height="3.01" fill="#fff" stroke="#222" stroke-width="0.9"/>
<text transform="translate(505.33,507.30) rotate(-90)" font-size="10.3" text-anchor="end">24</text>
<rect x="509.60" y="392.28" width="5.00" height="109.23" fill="#111" stroke="none" stroke-width="0" rx="0"/>
<rect x="515.00" y="498.49" width="4.70" height="3.01" fill="#fff" stroke="#222" stroke-width="0.9"/>
<text transform="translate(518.26,507.30) rotate(-90)" font-size="10.3" text-anchor="end">48</text>
<rect x="535.46" y="497.30" width="5.00" height="4.21" fill="#111" stroke="none" stroke-width="0" rx="0"/>
<rect x="540.86" y="497.15" width="4.70" height="4.35" fill="#fff" stroke="#222" stroke-width="0.9"/>
<text transform="translate(544.12,507.30) rotate(-90)" font-size="10.3" text-anchor="end">0</text>
<rect x="548.39" y="496.41" width="5.00" height="5.10" fill="#111" stroke="none" stroke-width="0" rx="0"/>
<rect x="553.79" y="499.82" width="4.70" height="1.68" fill="#fff" stroke="#222" stroke-width="0.9"/>
<text transform="translate(557.06,507.30) rotate(-90)" font-size="10.3" text-anchor="end">6</text>
<rect x="561.32" y="495.96" width="5.00" height="5.54" fill="#111" stroke="none" stroke-width="0" rx="0"/>
<rect x="566.72" y="498.49" width="4.70" height="3.01" fill="#fff" stroke="#222" stroke-width="0.9"/>
<text transform="translate(569.99,507.30) rotate(-90)" font-size="10.3" text-anchor="end">12</text>
<rect x="574.25" y="494.62" width="5.00" height="6.88" fill="#111" stroke="none" stroke-width="0" rx="0"/>
<rect x="579.65" y="498.49" width="4.70" height="3.01" fill="#fff" stroke="#222" stroke-width="0.9"/>
<text transform="translate(582.91,507.30) rotate(-90)" font-size="10.3" text-anchor="end">24</text>
<rect x="587.18" y="495.07" width="5.00" height="6.43" fill="#111" stroke="none" stroke-width="0" rx="0"/>
<rect x="592.58" y="497.60" width="4.70" height="3.90" fill="#fff" stroke="#222" stroke-width="0.9"/>
<text transform="translate(595.85,507.30) rotate(-90)" font-size="10.3" text-anchor="end">48</text>
<line x1="378.90" y1="501.50" x2="378.90" y2="504.20" stroke="#222" stroke-width="1.15"/>
<line x1="391.83" y1="501.50" x2="391.83" y2="504.20" stroke="#222" stroke-width="1.15"/>
<line x1="404.76" y1="501.50" x2="404.76" y2="504.20" stroke="#222" stroke-width="1.15"/>
<line x1="417.69" y1="501.50" x2="417.69" y2="504.20" stroke="#222" stroke-width="1.15"/>
<line x1="430.62" y1="501.50" x2="430.62" y2="504.20" stroke="#222" stroke-width="1.15"/>
<line x1="443.55" y1="501.50" x2="443.55" y2="504.20" stroke="#222" stroke-width="1.15"/>
<line x1="456.48" y1="501.50" x2="456.48" y2="504.20" stroke="#222" stroke-width="1.15"/>
<line x1="469.41" y1="501.50" x2="469.41" y2="504.20" stroke="#222" stroke-width="1.15"/>
<line x1="482.34" y1="501.50" x2="482.34" y2="504.20" stroke="#222" stroke-width="1.15"/>
<line x1="495.27" y1="501.50" x2="495.27" y2="504.20" stroke="#222" stroke-width="1.15"/>
<line x1="508.20" y1="501.50" x2="508.20" y2="504.20" stroke="#222" stroke-width="1.15"/>
<line x1="521.13" y1="501.50" x2="521.13" y2="504.20" stroke="#222" stroke-width="1.15"/>
<line x1="534.06" y1="501.50" x2="534.06" y2="504.20" stroke="#222" stroke-width="1.15"/>
<line x1="546.99" y1="501.50" x2="546.99" y2="504.20" stroke="#222" stroke-width="1.15"/>
<line x1="559.92" y1="501.50" x2="559.92" y2="504.20" stroke="#222" stroke-width="1.15"/>
<line x1="572.85" y1="501.50" x2="572.85" y2="504.20" stroke="#222" stroke-width="1.15"/>
<line x1="585.78" y1="501.50" x2="585.78" y2="504.20" stroke="#222" stroke-width="1.15"/>
<line x1="598.71" y1="501.50" x2="598.71" y2="504.20" stroke="#222" stroke-width="1.15"/>
<line x1="382.90" y1="367.90" x2="442.90" y2="367.90" stroke="#2a2a2a" stroke-width="0.95"/>
<text x="410.30" y="364.59" font-size="10.6" text-anchor="middle" font-weight="normal" >39.10</text>
<line x1="461.00" y1="367.90" x2="517.50" y2="367.90" stroke="#2a2a2a" stroke-width="0.95"/>
<text x="486.65" y="364.59" font-size="10.6" text-anchor="middle" font-weight="normal" >A5/158</text>
<line x1="534.00" y1="367.90" x2="593.00" y2="367.90" stroke="#2a2a2a" stroke-width="0.95"/>
<text x="560.90" y="364.59" font-size="10.6" text-anchor="middle" font-weight="normal" >CAT2</text>
<text x="487.60" y="538.09" font-size="10.6" text-anchor="middle" font-weight="normal" >Culture in FBS-free DMEM (h)</text>
<text transform="translate(337.40,435.60) rotate(-90)" font-size="10.6" text-anchor="middle">Relative Endo180 levels</text>
<text transform="translate(350.00,436.20) rotate(-90)" font-size="10.6" text-anchor="middle">(abitrary units)</text>
<rect x="526.50" y="380.20" width="4.80" height="4.80" fill="#111" stroke="none" stroke-width="0" rx="0"/>
<text x="536.30" y="385.87" font-size="8.85" text-anchor="start" font-weight="normal" >Conditioned medium</text>
<rect x="527.00" y="393.30" width="4.0" height="4.0" fill="#fff" stroke="#222" stroke-width="1.0"/>
<text x="536.30" y="398.97" font-size="8.85" text-anchor="start" font-weight="normal" >Whole-cell lysate</text>
</svg>
</body>
</html>
